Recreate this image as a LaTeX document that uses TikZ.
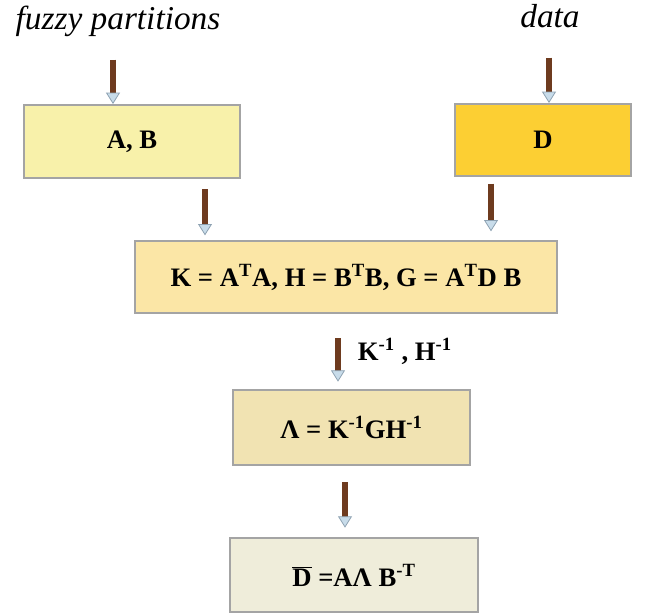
\documentclass[tikz,border=0pt]{standalone}
\usepackage{fontspec}
\setmainfont{Liberation Serif}
\usetikzlibrary{arrows.meta}

\definecolor{abfill}{HTML}{F8F1AA}
\definecolor{dfill}{HTML}{FCCF33}
\definecolor{kfill}{HTML}{FBE6A6}
\definecolor{lamfill}{HTML}{F1E3B2}
\definecolor{dbarfill}{HTML}{EFEDDA}
\definecolor{boxedge}{HTML}{A4A4A4}
\definecolor{shaft}{HTML}{6E3B1F}
\definecolor{headfill}{HTML}{C8DCEA}
\definecolor{headedge}{HTML}{8EA2B2}

\tikzset{
  stagebox/.style={draw=boxedge, line width=1.5pt, inner sep=0pt,
    font=\fontsize{20}{24}\selectfont\bfseries},
  flow/.style={draw=shaft, line width=3.9pt,
    -{Triangle[width=10.5pt, length=8.5pt, fill=headfill, color=headedge, line width=0.6pt]}},
  inlabel/.style={font=\fontsize{25}{30}\selectfont\itshape, inner sep=0pt}
}

\begin{document}
\begin{tikzpicture}[x=0.75pt, y=-0.75pt]
  \useasboundingbox (0,0) rectangle (653,614);

  % inputs
  \node[inlabel, anchor=base] (fp) at (118,29) {fuzzy partitions};
  \node[inlabel, anchor=base] (data) at (550,27) {data};

  % processing stages
  \node[stagebox, fill=abfill, minimum width=216*0.75pt, minimum height=73*0.75pt] (ab) at (132,141.5) {A, B};
  \node[stagebox, fill=dfill, minimum width=176*0.75pt, minimum height=72*0.75pt] (d) at (543,140) {D};
  \node[stagebox, fill=kfill, minimum width=422*0.75pt, minimum height=72*0.75pt] (k) at (346,277)
    {K = A\textsuperscript{T}A, H = B\textsuperscript{T}B, G = A\textsuperscript{T}D B};
  \node[stagebox, fill=lamfill, minimum width=237*0.75pt, minimum height=75*0.75pt] (lam) at (351.5,427.5)
    {Λ = K\textsuperscript{-1}GH\textsuperscript{-1}};
  \node[stagebox, fill=dbarfill, minimum width=248*0.75pt, minimum height=74*0.75pt] (dbar) at (354,575)
    {$\overline{\mbox{D}}$ =AΛ B\textsuperscript{-T}};

  % x positions of the short arrows
  \coordinate (x1) at (113,0);
  \coordinate (x2) at (549,0);
  \coordinate (x3) at (205,0);
  \coordinate (x4) at (491,0);
  \coordinate (x5) at (338,0);
  \coordinate (x6) at (345,0);

  \draw[flow, shorten <=23pt] (fp.base -| x1) -- (ab.north -| x1);
  \draw[flow, shorten <=23pt] (data.base -| x2) -- (d.north -| x2);
  \draw[flow, shorten <=7.5pt, shorten >=3.5pt] (ab.south -| x3) -- (k.north -| x3);
  \draw[flow, shorten <=5pt, shorten >=6.5pt] (d.south -| x4) -- (k.north -| x4);
  \draw[flow, shorten <=18pt, shorten >=5.5pt] (k.south -| x5) -- (lam.north -| x5)
    node[pos=0.5, right=13pt, font=\fontsize{20}{24}\selectfont\bfseries, inner sep=0pt] (inv)
    {K\textsuperscript{-1} , H\textsuperscript{-1}};
  \draw[flow, shorten <=12pt, shorten >=7pt] (lam.south -| x6) -- (dbar.north -| x6);
\end{tikzpicture}
\end{document}
